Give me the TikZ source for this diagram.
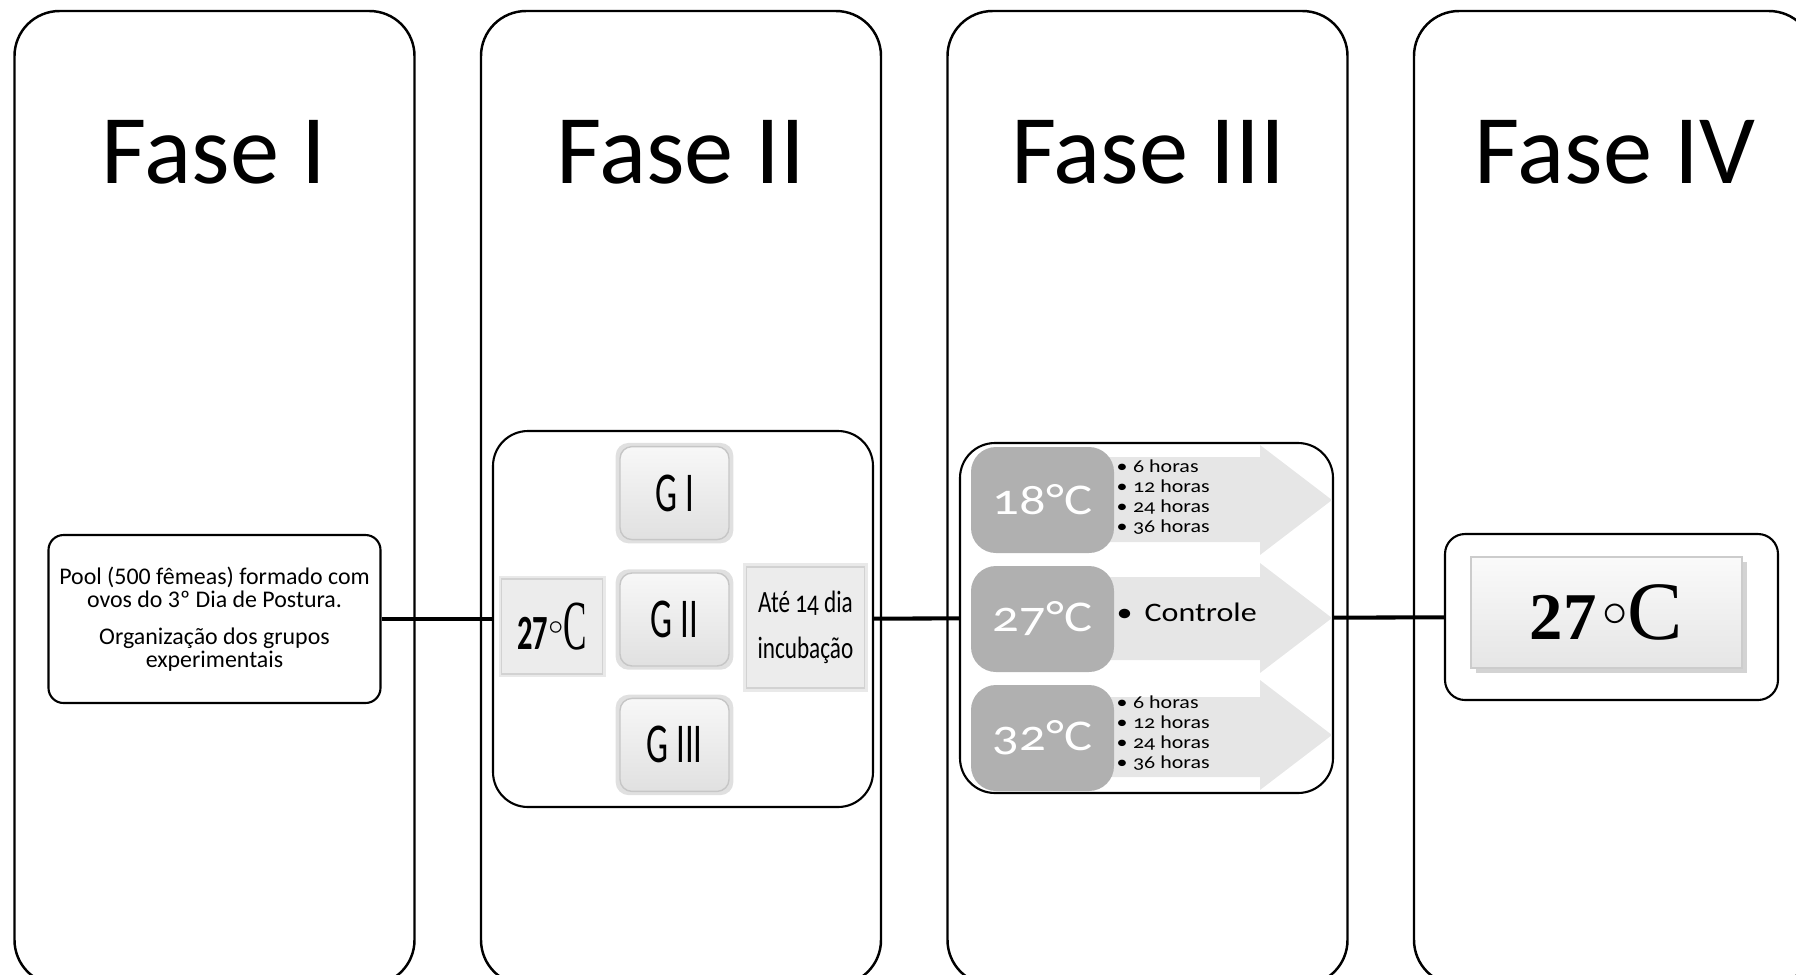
\documentclass[tikz,border=0pt]{standalone}
\usepackage{fontspec}
\setmainfont{Carlito}
\newfontfamily\gfont[FakeStretch=0.62]{Carlito}
\newfontfamily\condfont[FakeStretch=0.75,Numbers=OldStyle]{Carlito}
\newfontfamily\widefont[FakeStretch=1.2,Numbers=OldStyle]{Carlito}
\newfontfamily\cfont[FakeStretch=0.5]{Liberation Serif}
\newfontfamily\seriffont{Liberation Serif}
\usetikzlibrary{positioning,shadows}
\definecolor{heatgray}{RGB}{176,176,176}
\definecolor{arrowgray}{RGB}{230,230,230}
\definecolor{boxgray}{RGB}{236,236,236}
\tikzset{
	phase/.style={draw,rounded corners=4.5mm,line width=0.7pt,inner sep=0pt,
		minimum width=40mm,minimum height=97.4mm},
	title/.style={inner sep=0pt,font=\fontsize{28}{30}\selectfont},
	frame/.style={draw,rounded corners=3.5mm,line width=0.6pt,inner sep=0pt}
}
\tikzset{
	pool/.style={draw,rounded corners=1.5mm,line width=0.6pt,align=center,inner sep=0pt,
		minimum width=33.2mm,minimum height=16.8mm,font=\fontsize{6.8}{6.7}\selectfont},
	gbox/.style={draw=gray!45,rounded corners=1.2mm,top color=gray!6,bottom color=gray!24,
		minimum width=10.9mm,minimum height=9.3mm,font=\gfont\fontsize{16}{16}\selectfont,
		general shadow={fill=gray!60,opacity=0.4,shadow scale=1.08}},
	tbox/.style={draw=gray!35,fill=boxgray,inner sep=0pt,align=center,
		general shadow={fill=gray!50,opacity=0.35,shadow scale=1.06}},
	heat/.style={fill=heatgray,rounded corners=2.5mm,text=white,minimum width=14.3mm,
		minimum height=10.6mm,font=\widefont\fontsize{12.5}{12.5}\selectfont},
	hours/.style={anchor=west,align=left,inner sep=0pt,font=\widefont\fontsize{5.2}{5.7}\selectfont},
	arrowfill/.style={fill=arrowgray},
	link/.style={line width=1.15pt}
}

\begin{document}
\begin{tikzpicture}[x=0.1mm,y=-0.1mm]
	\useasboundingbox (0,0) rectangle (1796,974);
	% the four phases
	\node[phase] (F1) at (214.5,498) {};
	\node[phase] (F2) at (681,498) {};
	\node[phase] (F3) at (1147.5,498) {};
	\node[phase] (F4) at (1614,498) {};
	\node[title] (T1) at (214,152) {Fase I};
	\node[title] (T2) at (681,152) {Fase II};
	\node[title] (T3) at (1148,152) {Fase III};
	\node[title] (T4) at (1615,152) {Fase IV};

	% fase I
	\node[pool] (P1) at (214.5,619) {Pool (500 fêmeas) formado com\\ ovos do 3º Dia de Postura.\\[1.3mm]
		Organização dos grupos\\ experimentais};

	% fase II
	\node[frame,minimum width=38mm,minimum height=37.6mm] (B2) at (683,619) {};
	\node[gbox] (G2) at (674.5,619.5) {G II};
	\node[gbox] (G1) [above=3.2mm of G2] {G I};
	\node[gbox] (G3) [below=3.1mm of G2] {G III};
	\node[tbox,minimum width=10.1mm,minimum height=9.5mm] (C2) [left=1.6mm of G2,yshift=-0.7mm]
		{{\gfont\bfseries\fontsize{14}{14}\selectfont 27}\raisebox{1.45mm}{\fontsize{8.4}{8}\selectfont$\circ$}{\cfont\fontsize{20}{20}\selectfont C}};
	\node[tbox,minimum width=11.8mm,minimum height=12.1mm,font=\condfont\fontsize{8.8}{13.2}\selectfont] (D2)
		[right=1.6mm of G2,yshift=-0.8mm] {Até 14 dia\\ incubação};

	% fase III
	\node[frame,minimum width=37.3mm,minimum height=35mm] (B3) at (1146.5,618) {};
	\fill[arrowfill] (1100,457) -- (1260,457) -- (1260,445) -- (1332,500) -- (1260,555) -- (1260,542) -- (1100,542) -- cycle;
	\fill[arrowfill] (1100,577) -- (1260,577) -- (1260,563) -- (1332,618) -- (1260,673) -- (1260,660) -- (1100,660) -- cycle;
	\fill[arrowfill] (1100,697) -- (1260,697) -- (1260,680) -- (1332,735) -- (1260,790) -- (1260,777) -- (1100,777) -- cycle;
	\node[heat] (H1) at (1042.5,500) {18°C};
	\node[heat] (H2) at (1042.5,619) {27°C};
	\node[heat] (H3) at (1042.5,738) {32°C};
	\node[hours] (L1) at (1116,497.5) {•\hspace{0.55mm}6 horas\\ •\hspace{0.55mm}12 horas\\ •\hspace{0.55mm}24 horas\\ •\hspace{0.55mm}36 horas};
	\node[hours,font=\widefont\fontsize{7.6}{8}\selectfont] (L2) at (1116,612) {•\hspace{1.2mm}Controle};
	\node[hours] (L3) at (1116,733.5) {•\hspace{0.55mm}6 horas\\ •\hspace{0.55mm}12 horas\\ •\hspace{0.55mm}24 horas\\ •\hspace{0.55mm}36 horas};

	% fase IV
	\node[frame,rounded corners=2mm,minimum width=33.3mm,minimum height=16.6mm] (B4) at (1611.5,617) {};
	\node[draw=gray!40,top color=gray!4,bottom color=gray!20,minimum width=27.1mm,minimum height=11.1mm,
		drop shadow={opacity=0.35,shadow xshift=0.5mm,shadow yshift=-0.5mm}] (C4) at (1606.5,612.5)
		{{\seriffont\bfseries\fontsize{19}{19}\selectfont 27}\,\raisebox{1.27mm}{\fontsize{14}{14}\selectfont$\circ$}{\seriffont\fontsize{23.6}{24}\selectfont C}};

	% connectors
	\path[link] (P1) edge (B2);
	\path[link] (B2) edge (B3);
	\path[link] (B3) edge (B4);
\end{tikzpicture}
\end{document}
